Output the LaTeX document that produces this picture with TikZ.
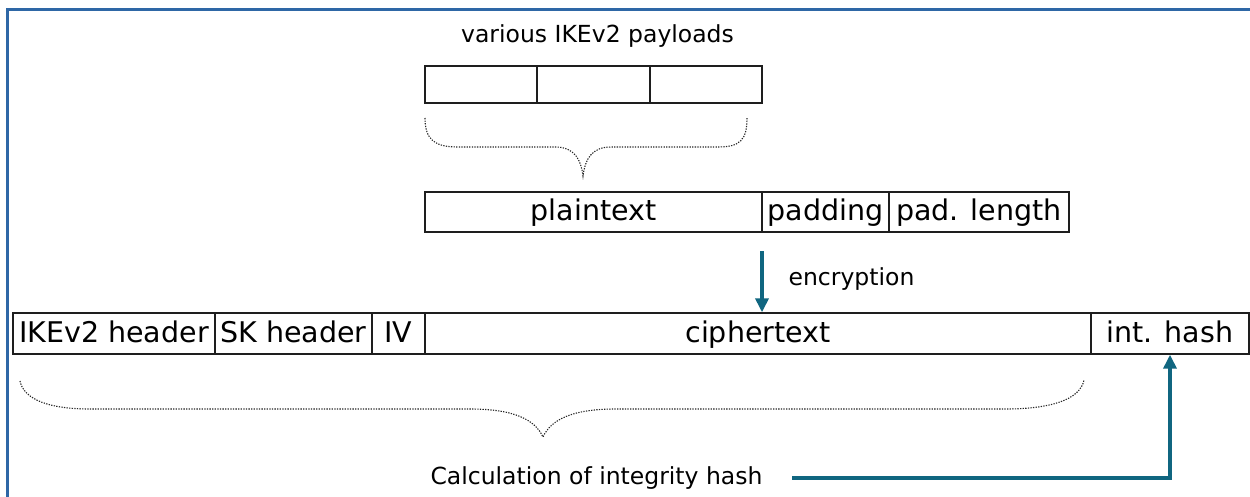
\documentclass[tikz,border=0pt]{standalone}
\usepackage{fontspec}
\setmainfont{DejaVu Sans}
\usetikzlibrary{arrows.meta}
\definecolor{framebl}{RGB}{46,103,166}
\definecolor{teal2}{RGB}{16,102,128}
\definecolor{boxln}{RGB}{30,30,30}
\tikzset{
  cell/.style={draw=boxln, line width=1.4pt, inner sep=0pt, text height=20.5pt, text depth=3pt,
    font=\fontsize{28.5}{34}\selectfont},
  lbl/.style={inner sep=0pt, font=\fontsize{23.5}{28}\selectfont},
  bracepath/.style={draw=black!85, line width=1.1pt, dash pattern=on 1.3pt off 1.3pt},
  flow/.style={draw=teal2, line width=3.6pt, -{Triangle[width=13pt,length=14pt]}},
  framestyle/.style={draw=framebl, line width=3pt}
}
\begin{document}
\begin{tikzpicture}[x=1pt,y=-1pt]
\useasboundingbox (0,0) rectangle (1250,497);
\draw[framestyle] (7.5,497) -- (7.5,10) -- (1250,10);

% payloads
\node[lbl] (var) at (597.5,36) {various IKEv2 payloads};
\node[cell, minimum width=112pt, minimum height=37pt] (p1) at (481,84.5) {};
\node[cell, minimum width=113pt, minimum height=37pt] (p2) at (593.5,84.5) {};
\node[cell, minimum width=112pt, minimum height=37pt] (p3) at (706,84.5) {};

% brace 1
\draw[bracepath] (425,118) .. controls (425,140) and (435,147) .. (458,147)
  -- (555,147) .. controls (575,147) and (581,160) .. (583,176)
  .. controls (585,160) and (591,147) .. (611,147)
  -- (718,147) .. controls (740,147) and (747,140) .. (747,118);

% plaintext row
\node[cell, minimum width=337pt, minimum height=40pt] (plain) at (593.5,212) {plaintext};
\node[cell, minimum width=127pt, minimum height=40pt] (pad) at (825.5,212) {padding};
\node[cell, minimum width=180pt, minimum height=40pt] (padlen) at (979,212) {pad. length};

% bottom row
\node[cell, minimum width=202pt, minimum height=41pt] (ike) at (114,333.5) {IKEv2 header};
\node[cell, minimum width=157pt, minimum height=41pt] (sk) at (293.5,333.5) {SK header};
\node[cell, minimum width=53pt, minimum height=41pt] (iv) at (398.5,333.5) {IV};
\node[cell, minimum width=666pt, minimum height=41pt] (ct) at (758,333.5) {ciphertext};
\node[cell, minimum width=158pt, minimum height=41pt] (hash) at (1170,333.5) {int. hash};

% encryption arrow
\coordinate (encstart) at (762,251);
\draw[flow] (encstart) -- (encstart |- ct.north);
\node[lbl] (enc) at (851.5,279) {encryption};

% brace 2
\draw[bracepath] (20,381) .. controls (24,400) and (50,409) .. (90,409)
  -- (470,409) .. controls (515,409) and (535,420) .. (543,437)
  .. controls (551,420) and (571,409) .. (616,409)
  -- (1005,409) .. controls (1050,409) and (1080,400) .. (1084,380);

% calculation
\node[lbl] (calc) at (596.5,478) {Calculation of integrity hash};
\coordinate (hstart) at (792,478);
\draw[flow] (hstart) -| (hash.south);
\end{tikzpicture}
\end{document}
